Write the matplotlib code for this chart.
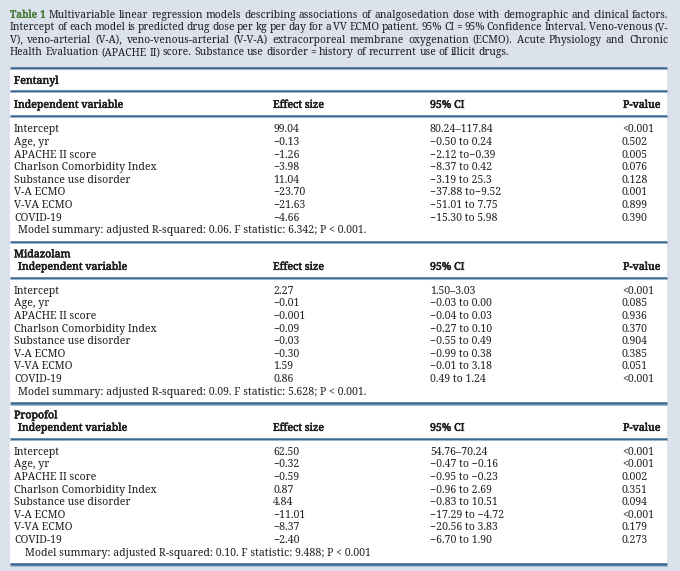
import matplotlib
matplotlib.use('Agg')
import matplotlib.pyplot as plt
import matplotlib.patheffects as pe
from matplotlib.patches import Rectangle

# tabla 1: modelos de regresion (fentanilo, midazolam, propofol)

W, H, DPI = 680, 571, 100

caption_lines = [
    "Table 1 Multivariable linear regression models describing associations of analgosedation dose with demographic and clinical factors.",
    "Intercept of each model is predicted drug dose per kg per day for a VV ECMO patient. 95% CI = 95% Confidence Interval. Veno-venous (V-",
    "V), veno-arterial (V-A), veno-venous-arterial (V-V-A) extracorporeal membrane oxygenation (ECMO). Acute Physiology and Chronic",
    "Health Evaluation (APACHE II) score. Substance use disorder = history of recurrent use of illicit drugs.",
]

headers = ["Independent variable", "Effect size", "95% CI", "P-value"]
variables = ["Intercept", "Age, yr", "APACHE II score", "Charlson Comorbidity Index",
             "Substance use disorder", "V-A ECMO", "V-VA ECMO", "COVID-19"]

drugs = ["Fentanyl", "Midazolam", "Propofol"]

fentanyl_effect = ["99.04", "\u22120.13", "\u22121.26", "\u22123.98", "11.04", "\u221223.70", "\u221221.63", "\u22124.66"]
fentanyl_ci = ["80.24\u2013117.84", "\u22120.50 to 0.24", "\u22122.12 to\u22120.39", "\u22128.37 to 0.42",
               "\u22123.19 to 25.3", "\u221237.88 to\u22129.52", "\u221251.01 to 7.75", "\u221215.30 to 5.98"]
fentanyl_p = ["<0.001", "0.502", "0.005", "0.076", "0.128", "0.001", "0.899", "0.390"]
fentanyl_summary = "Model summary: adjusted R-squared: 0.06. F statistic: 6.342; P < 0.001."

midazolam_effect = ["2.27", "\u22120.01", "\u22120.001", "\u22120.09", "\u22120.03", "\u22120.30", "1.59", "0.86"]
midazolam_ci = ["1.50\u20133.03", "\u22120.03 to 0.00", "\u22120.04 to 0.03", "\u22120.27 to 0.10",
                "\u22120.55 to 0.49", "\u22120.99 to 0.38", "\u22120.01 to 3.18", "0.49 to 1.24"]
midazolam_p = ["<0.001", "0.085", "0.936", "0.370", "0.904", "0.385", "0.051", "<0.001"]
midazolam_summary = "Model summary: adjusted R-squared: 0.09. F statistic: 5.628; P < 0.001."

propofol_effect = ["62.50", "\u22120.32", "\u22120.59", "0.87", "4.84", "\u221211.01", "\u22128.37", "\u22122.40"]
propofol_ci = ["54.76\u201370.24", "\u22120.47 to \u22120.16", "\u22120.95 to \u22120.23", "\u22120.96 to 2.69",
               "\u22120.83 to 10.51", "\u221217.29 to \u22124.72", "\u221220.56 to 3.83", "\u22126.70 to 1.90"]
propofol_p = ["<0.001", "<0.001", "0.002", "0.351", "0.094", "<0.001", "0.179", "0.273"]
propofol_summary = "Model summary: adjusted R-squared: 0.10. F statistic: 9.488; P < 0.001"

secciones = [
    (drugs[0], fentanyl_effect, fentanyl_ci, fentanyl_p, fentanyl_summary),
    (drugs[1], midazolam_effect, midazolam_ci, midazolam_p, midazolam_summary),
    (drugs[2], propofol_effect, propofol_ci, propofol_p, propofol_summary),
]

FONT = ['Noto Serif', 'DejaVu Serif']
TXT = '#1e1e1e'
LINEA = '#3a6791'
FONDO = '#dbe2ec'
VERDE = '#4a7d3b'

fig = plt.figure(figsize=(W / DPI, H / DPI), dpi=DPI)
fig.patch.set_facecolor(FONDO)
ax = fig.add_axes([0, 0, 1, 1])
ax.set_xlim(0, W)
ax.set_ylim(H, 0)
ax.axis('off')
r = fig.canvas.get_renderer()


def ancho(s, size):
    t = ax.text(0, 0, s, fontsize=size, family=FONT)
    w = t.get_window_extent(r).width
    t.remove()
    return w


# tamanios de letra ajustados al ancho del original
size_tab = 10 * 143 / ancho("Charlson Comorbidity Index", 10)
size_cap = 10 * 652 / ancho(caption_lines[0], 10)
px_tab = size_tab * DPI / 72
px_cap = size_cap * DPI / 72


def texto(x, yc, s, size, px, negrita=False, color=TXT, **kw):
    t = ax.text(x, yc + 0.36 * px, s, fontsize=size, family=FONT, va='baseline', color=color, **kw)
    if negrita:
        # semi-negrita simulada
        t.set_path_effects([pe.withStroke(linewidth=0.4, foreground=color)])
    return t


# caption justificado
x0, x1 = 10, 668
cap_y = [14, 26.5, 39, 51.5]
for i, linea in enumerate(caption_lines):
    palabras = linea.split(' ')
    anchos = [ancho(p, size_cap) for p in palabras]
    if i < len(caption_lines) - 1:
        esp = (x1 - x0 - sum(anchos)) / (len(palabras) - 1)
    else:
        esp = ancho('a b', size_cap) - ancho('ab', size_cap)
    x = x0
    for k, p in enumerate(palabras):
        if i == 0 and k < 2:
            texto(x, cap_y[i], p, size_cap, px_cap, negrita=True, color=VERDE)
        else:
            texto(x, cap_y[i], p, size_cap, px_cap)
        x += anchos[k] + esp

# caja blanca
ax.add_patch(Rectangle((10, 68), 657, 495, facecolor='white', edgecolor='none', zorder=0))


def hline(y):
    ax.plot([10, 667], [y, y], color=LINEA, lw=1.8, solid_capstyle='butt')
    ax.plot([10, 667], [y + 1.4, y + 1.4], color='#9fb6cc', lw=0.7, solid_capstyle='butt')


col_x = [14, 273, 430, 622]
hline(68)
tops = [80, 253.5, 414.5]
for j, (nombre, eff, ci, p, resumen) in enumerate(secciones):
    y = tops[j]
    texto(14, y, nombre, size_tab, px_tab, negrita=True)
    if j == 0:
        hline(91)
        yh = 104
        hx = 14
        lh = 116
    else:
        yh = y + 12.5
        hx = 18
        lh = y + 24
    texto(hx, yh, headers[0], size_tab, px_tab, negrita=True)
    texto(col_x[1], yh, headers[1], size_tab, px_tab, negrita=True)
    texto(col_x[2], yh, headers[2], size_tab, px_tab, negrita=True)
    texto(660, yh, headers[3], size_tab, px_tab, negrita=True, ha='right')
    hline(lh)
    y0 = lh + 12.5
    for i, var in enumerate(variables):
        yy = y0 + i * 12.6
        texto(col_x[0], yy, var, size_tab, px_tab)
        texto(col_x[1], yy, eff[i], size_tab, px_tab)
        texto(col_x[2], yy, ci[i], size_tab, px_tab)
        texto(col_x[3], yy, p[i], size_tab, px_tab)
    ys = y0 + len(variables) * 12.6
    texto(25 if j == 2 else 18, ys, resumen, size_tab, px_tab)
    hline(ys + 12.5)

fig.savefig('out.png', dpi=DPI, facecolor=FONDO)
